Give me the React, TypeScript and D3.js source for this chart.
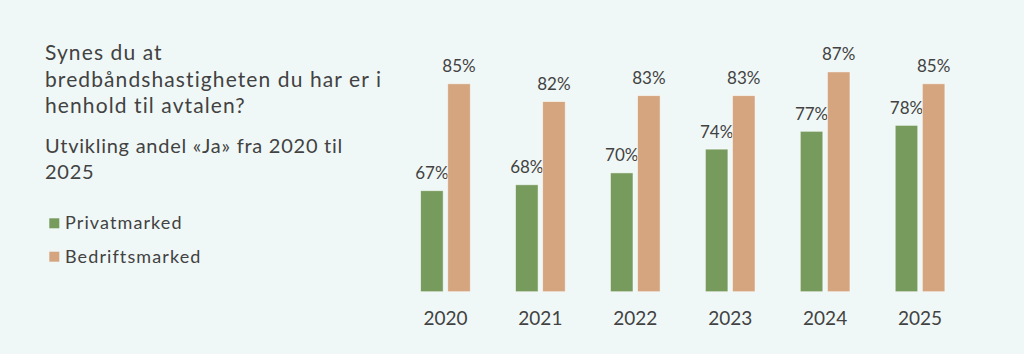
import React from "react";
import * as d3 from "d3";

const years = ["2020", "2021", "2022", "2023", "2024", "2025"];
const seriesNames = ["Privatmarked", "Bedriftsmarked"];
const privatmarked = [67, 68, 70, 74, 77, 78];
const bedriftsmarked = [85, 82, 83, 83, 87, 85];
const colors = ["#779b5d", "#d4a57e"];
const titleLines = ["Synes du at", "bredbåndshastigheten du har er i", "henhold til avtalen?"];
const subtitleLines = ["Utvikling andel «Ja» fra 2020 til", "2025"];

const W = 1024;
const H = 354;
const FONT = "Lato, 'Noto Sans', sans-serif";
const TEXT = "#424242";

export default function App() {
  const x0 = d3
    .scaleBand<string>()
    .domain(years)
    .range([398, 967.5])
    .paddingInner(0.477)
    .paddingOuter(0.2385);
  const x1 = d3
    .scaleBand<string>()
    .domain(seriesNames)
    .range([0, x0.bandwidth()])
    .paddingInner(0.17);
  const y = d3.scaleLinear().domain([50, 90]).range([291.7, 54.1]);
  const series = [privatmarked, bedriftsmarked];

  return (
    <svg
      width={W}
      height={H}
      style={{ position: "fixed", left: 0, top: 0, background: "#f0f8f7" }}
      fontFamily={FONT}
    >
      <rect x={0} y={0} width={W} height={H} fill="#f0f8f7" />
      {titleLines.map((t, i) => (
        <text key={t} x={45} y={60 + i * 26.5} fontSize={21} letterSpacing={1.1} fill={TEXT}>
          {t}
        </text>
      ))}
      {subtitleLines.map((t, i) => (
        <text key={t} x={45} y={153.3 + i * 26} fontSize={20} letterSpacing={0.75} fill={TEXT}>
          {t}
        </text>
      ))}
      {seriesNames.map((s, i) => (
        <g key={s}>
          <rect x={49.3} y={218.3 + i * 33.4} width={10} height={10} fill={colors[i]} />
          <text x={65} y={229.3 + i * 34} fontSize={18} letterSpacing={1.1} fill={TEXT}>
            {s}
          </text>
        </g>
      ))}
      {years.map((yr, yi) => (
        <g key={yr} transform={`translate(${x0(yr)},0)`}>
          {seriesNames.map((s, si) => {
            const v = series[si][yi];
            const bx = x1(s)!;
            return (
              <g key={s}>
                <rect
                  x={bx}
                  y={y(v)}
                  width={x1.bandwidth()}
                  height={y(50) - y(v)}
                  fill={colors[si]}
                  stroke="#ffffff"
                  strokeOpacity={0.6}
                  strokeWidth={0.8}
                />
                <text
                  x={bx + x1.bandwidth() / 2}
                  y={y(v) - 11.5}
                  textAnchor="middle"
                  fontSize={17}
                  fill={TEXT}
                >
                  {`${v}%`}
                </text>
              </g>
            );
          })}
          <text
            x={x0.bandwidth() / 2}
            y={325}
            textAnchor="middle"
            fontSize={19}
            fill={TEXT}
          >
            {yr}
          </text>
        </g>
      ))}
    </svg>
  );
}
